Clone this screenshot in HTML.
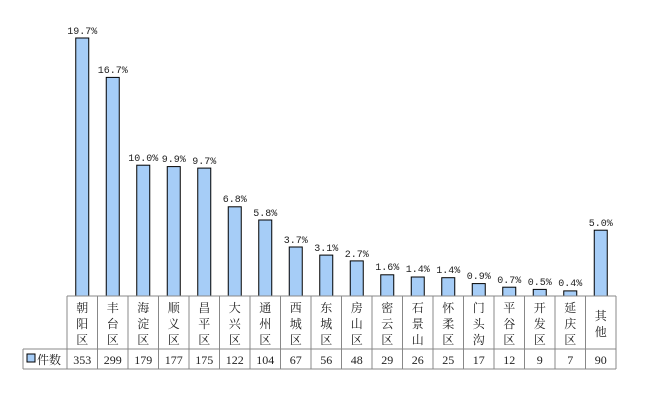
<!DOCTYPE html>
<html><head><meta charset="utf-8"><style>
body{margin:0;background:#fff;}
svg text{font-family:"Liberation Serif","Noto Serif CJK SC",serif;fill:#222;}
svg .pct text{font-family:"Liberation Mono","Noto Serif CJK SC",monospace;}
</style></head><body>
<svg width="649" height="407" viewBox="0 0 649 407" xmlns="http://www.w3.org/2000/svg">
<g fill="#a6cdf7" stroke="#000" stroke-width="1">
<rect x="75.75" y="38" width="13" height="258"/>
<rect x="106.25" y="77.4" width="13" height="218.6"/>
<rect x="136.75" y="165.2" width="13" height="130.8"/>
<rect x="167.25" y="166.6" width="13" height="129.4"/>
<rect x="197.75" y="168.1" width="13" height="127.9"/>
<rect x="228.25" y="206.8" width="13" height="89.2"/>
<rect x="258.75" y="220" width="13" height="76"/>
<rect x="289.25" y="247" width="13" height="49"/>
<rect x="319.75" y="255.1" width="13" height="40.9"/>
<rect x="350.25" y="260.9" width="13" height="35.1"/>
<rect x="380.75" y="274.8" width="13" height="21.2"/>
<rect x="411.25" y="277" width="13" height="19"/>
<rect x="441.75" y="277.7" width="13" height="18.3"/>
<rect x="472.25" y="283.6" width="13" height="12.4"/>
<rect x="502.75" y="287.2" width="13" height="8.8"/>
<rect x="533.25" y="289.4" width="13" height="6.6"/>
<rect x="563.75" y="290.9" width="13" height="5.1"/>
<rect x="594.25" y="230.2" width="13" height="65.8"/>
</g>
<g class="pct" font-size="10" text-anchor="middle">
<text x="82.25" y="34">19.7%</text>
<text x="112.75" y="73">16.7%</text>
<text x="143.25" y="161">10.0%</text>
<text x="173.75" y="162">9.9%</text>
<text x="204.25" y="164">9.7%</text>
<text x="234.75" y="202">6.8%</text>
<text x="265.25" y="216">5.8%</text>
<text x="295.75" y="243">3.7%</text>
<text x="326.25" y="251">3.1%</text>
<text x="356.75" y="257">2.7%</text>
<text x="387.25" y="270">1.6%</text>
<text x="417.75" y="272">1.4%</text>
<text x="448.25" y="273">1.4%</text>
<text x="478.75" y="279">0.9%</text>
<text x="509.25" y="283">0.7%</text>
<text x="539.75" y="285">0.5%</text>
<text x="570.25" y="286">0.4%</text>
<text x="600.75" y="226">5.0%</text>
</g>
<g stroke="#888" stroke-width="1" fill="none">
<line x1="67" y1="296" x2="616" y2="296"/>
<line x1="23" y1="349" x2="616" y2="349"/>
<line x1="23" y1="369" x2="616" y2="369"/>
<line x1="23" y1="349" x2="23" y2="369"/>
<line x1="67" y1="296" x2="67" y2="369"/><line x1="97.5" y1="296" x2="97.5" y2="369"/><line x1="128" y1="296" x2="128" y2="369"/><line x1="158.5" y1="296" x2="158.5" y2="369"/><line x1="189" y1="296" x2="189" y2="369"/><line x1="219.5" y1="296" x2="219.5" y2="369"/><line x1="250" y1="296" x2="250" y2="369"/><line x1="280.5" y1="296" x2="280.5" y2="369"/><line x1="311" y1="296" x2="311" y2="369"/><line x1="341.5" y1="296" x2="341.5" y2="369"/><line x1="372" y1="296" x2="372" y2="369"/><line x1="402.5" y1="296" x2="402.5" y2="369"/><line x1="433" y1="296" x2="433" y2="369"/><line x1="463.5" y1="296" x2="463.5" y2="369"/><line x1="494" y1="296" x2="494" y2="369"/><line x1="524.5" y1="296" x2="524.5" y2="369"/><line x1="555" y1="296" x2="555" y2="369"/><line x1="585.5" y1="296" x2="585.5" y2="369"/><line x1="616" y1="296" x2="616" y2="369"/>
</g>
<g font-size="12" text-anchor="middle">
<text x="82.25" y="312">朝</text><text x="82.25" y="328">阳</text><text x="82.25" y="344">区</text>
<text x="112.75" y="312">丰</text><text x="112.75" y="328">台</text><text x="112.75" y="344">区</text>
<text x="143.25" y="312">海</text><text x="143.25" y="328">淀</text><text x="143.25" y="344">区</text>
<text x="173.75" y="312">顺</text><text x="173.75" y="328">义</text><text x="173.75" y="344">区</text>
<text x="204.25" y="312">昌</text><text x="204.25" y="328">平</text><text x="204.25" y="344">区</text>
<text x="234.75" y="312">大</text><text x="234.75" y="328">兴</text><text x="234.75" y="344">区</text>
<text x="265.25" y="312">通</text><text x="265.25" y="328">州</text><text x="265.25" y="344">区</text>
<text x="295.75" y="312">西</text><text x="295.75" y="328">城</text><text x="295.75" y="344">区</text>
<text x="326.25" y="312">东</text><text x="326.25" y="328">城</text><text x="326.25" y="344">区</text>
<text x="356.75" y="312">房</text><text x="356.75" y="328">山</text><text x="356.75" y="344">区</text>
<text x="387.25" y="312">密</text><text x="387.25" y="328">云</text><text x="387.25" y="344">区</text>
<text x="417.75" y="312">石</text><text x="417.75" y="328">景</text><text x="417.75" y="344">山</text>
<text x="448.25" y="312">怀</text><text x="448.25" y="328">柔</text><text x="448.25" y="344">区</text>
<text x="478.75" y="312">门</text><text x="478.75" y="328">头</text><text x="478.75" y="344">沟</text>
<text x="509.25" y="312">平</text><text x="509.25" y="328">谷</text><text x="509.25" y="344">区</text>
<text x="539.75" y="312">开</text><text x="539.75" y="328">发</text><text x="539.75" y="344">区</text>
<text x="570.25" y="312">延</text><text x="570.25" y="328">庆</text><text x="570.25" y="344">区</text>
<text x="600.75" y="320">其</text><text x="600.75" y="336">他</text>
</g>
<rect x="27" y="354" width="8" height="8" fill="#a6cdf7" stroke="#000" stroke-width="1"/>
<g font-size="12">
<text x="37" y="364">件数</text>
</g>
<g font-size="12" text-anchor="middle">
<text x="82.25" y="364">353</text><text x="112.75" y="364">299</text><text x="143.25" y="364">179</text><text x="173.75" y="364">177</text><text x="204.25" y="364">175</text><text x="234.75" y="364">122</text><text x="265.25" y="364">104</text><text x="295.75" y="364">67</text><text x="326.25" y="364">56</text><text x="356.75" y="364">48</text><text x="387.25" y="364">29</text><text x="417.75" y="364">26</text><text x="448.25" y="364">25</text><text x="478.75" y="364">17</text><text x="509.25" y="364">12</text><text x="539.75" y="364">9</text><text x="570.25" y="364">7</text><text x="600.75" y="364">90</text>
</g>
</svg>
</body></html>
